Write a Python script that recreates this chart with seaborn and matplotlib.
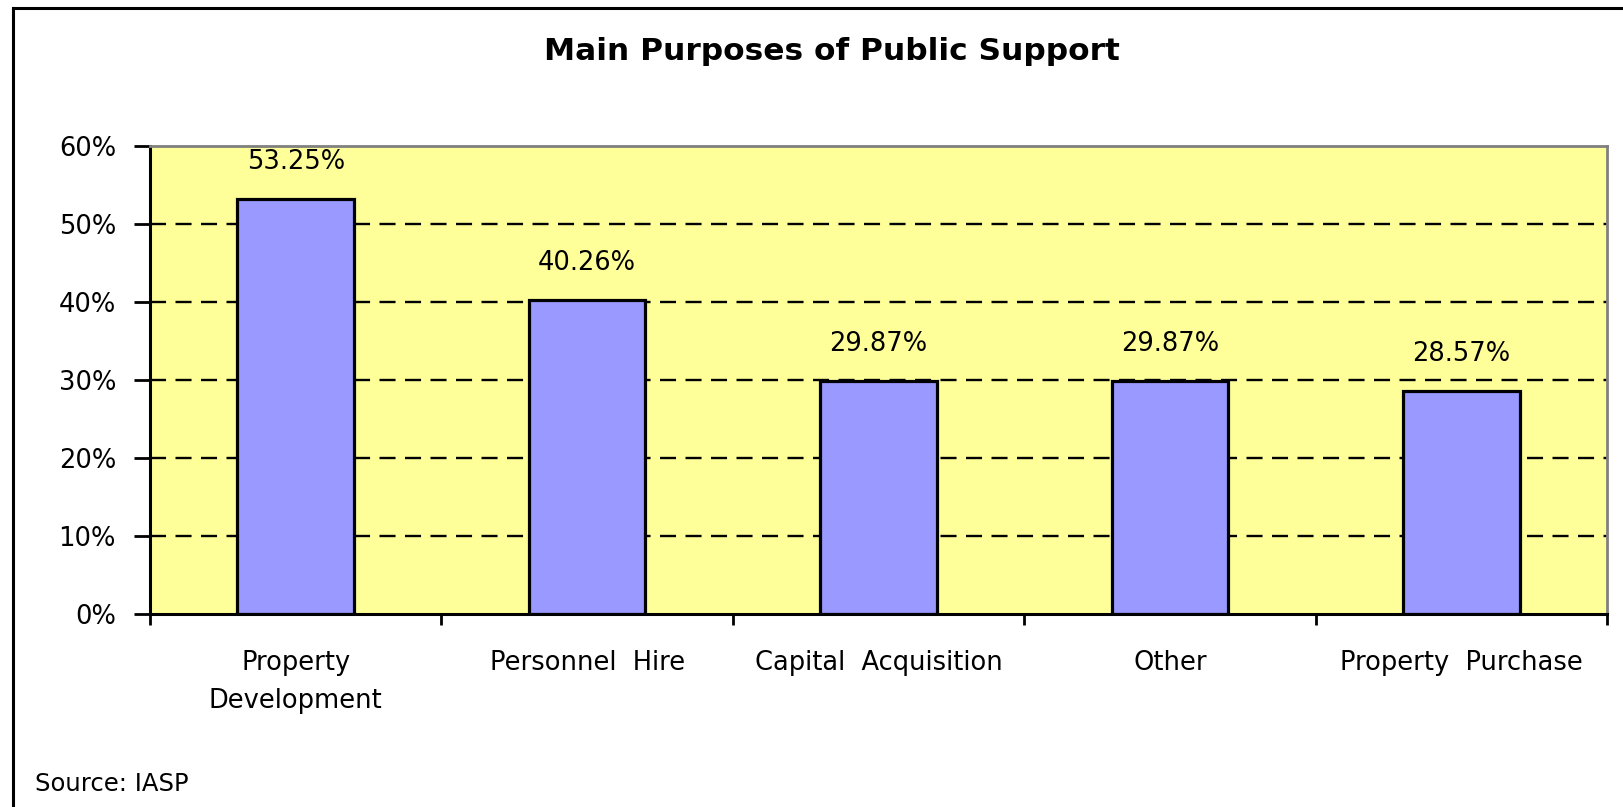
import matplotlib
matplotlib.use('Agg')
import matplotlib.pyplot as plt
import seaborn as sns
from matplotlib.lines import Line2D
from matplotlib.ticker import PercentFormatter

# Data
categories = ['Property\nDevelopment', 'Personnel  Hire', 'Capital  Acquisition', 'Other', 'Property  Purchase']
shares = [53.25, 40.26, 29.87, 29.87, 28.57]
value_labels = ['53.25%', '40.26%', '29.87%', '29.87%', '28.57%']
y_ticks = [0, 10, 20, 30, 40, 50, 60]

sns.set_style('white')
plt.rcParams['font.family'] = ['DejaVu Sans']
plt.rcParams['text.color'] = 'black'
plt.rcParams['xtick.color'] = 'black'
plt.rcParams['ytick.color'] = 'black'

W, H = 1624, 807
fig = plt.figure(figsize=(W / 100, H / 100), dpi=100)
fig.patch.set_facecolor('white')

# plot area in pixel coords
left, right, top, bottom = 150, 1607, 146, 614
ax = fig.add_axes([left / W, 1 - bottom / H, (right - left) / W, (bottom - top) / H])
ax.set_facecolor('#FFFF99')

sns.barplot(x=categories, y=shares, color='#9999FF', saturation=1, width=0.4,
            edgecolor='black', linewidth=2.3, ax=ax, zorder=2)

ax.set_xlim(-0.5, len(categories) - 0.5)
ax.set_ylim(0, 60)

# dashed gridlines (not at 0 / 60)
for t in y_ticks[1:-1]:
    ax.axhline(t, color='black', lw=1.7, linestyle=(0, (6.8, 4)), zorder=1)

ax.set_yticks(y_ticks)
ax.yaxis.set_major_formatter(PercentFormatter(decimals=0))
ax.tick_params(axis='y', left=True, length=11.5, width=2, color='black',
               pad=13, labelsize=18.5, labelcolor='black', direction='out')

ax.set_xticks(range(len(categories)))
ax.set_xticklabels(categories, linespacing=1.6)
ax.set_xticks([i - 0.5 for i in range(len(categories) + 1)], minor=True)
ax.tick_params(axis='x', which='major', length=0, pad=26, labelsize=18.5, labelcolor='black')
ax.tick_params(axis='x', which='minor', bottom=True, length=8, width=2,
               color='black', direction='out')
ax.set_xlabel('')
ax.set_ylabel('')

for sp in ['left', 'bottom']:
    ax.spines[sp].set_color('black')
    ax.spines[sp].set_linewidth(2.2)
for sp in ['top', 'right']:
    ax.spines[sp].set_visible(True)
    ax.spines[sp].set_color('#808080')
    ax.spines[sp].set_linewidth(2)

for i, (v, lab) in enumerate(zip(shares, value_labels)):
    ax.annotate(lab, (i, v), xytext=(0, 21.5), textcoords='offset points',
                ha='center', va='baseline', fontsize=18.5, color='black')

fig.text(832 / W, 1 - 51 / H, 'Main Purposes of Public Support', ha='center', va='center',
         fontsize=22.5, fontweight='bold', color='black')
fig.text(35 / W, 1 - 791 / H, 'Source: IASP', ha='left', va='baseline',
         fontsize=17.5, color='black')

# outer frame (left and top edges visible)
fig.add_artist(Line2D([13.5 / W, 13.5 / W], [0, 1 - 7.5 / H], transform=fig.transFigure,
                      color='black', lw=2.2, solid_capstyle='projecting'))
fig.add_artist(Line2D([13.5 / W, 1], [1 - 7.5 / H, 1 - 7.5 / H], transform=fig.transFigure,
                      color='black', lw=2.2, solid_capstyle='projecting'))

fig.savefig('out.png', dpi=100, facecolor='white')
